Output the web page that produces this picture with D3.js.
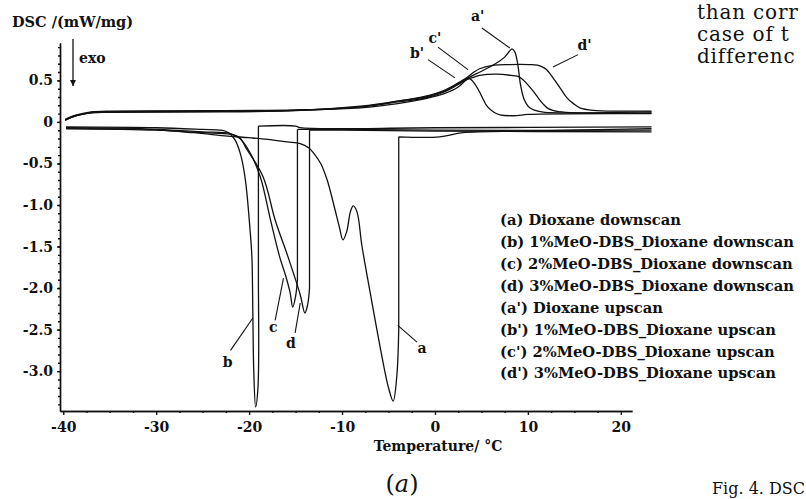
<!DOCTYPE html>
<html>
<head>
<meta charset="utf-8">
<title>DSC</title>
<script src="https://d3js.org/d3.v7.min.js"></script>
<style>
    body { margin: 0; background: #fff; }
    svg { display: block; background: #ffffff; }
    .lbl { font-family: "DejaVu Serif", serif; font-weight: bold; font-size: 14px; fill: #111; }
    .page { font-family: "DejaVu Serif", serif; fill: #111; }
    .curve { fill: none; stroke: #111; stroke-width: 1.3; stroke-linejoin: round; }
    .axis path, .axis line { stroke: #111; stroke-width: 1.4; }
    .axis text { font-family: "DejaVu Serif", serif; font-weight: bold; font-size: 14px; fill: #111; }
</style>
</head>
<body>
<div id="chart"></div>
<script>
// ticks
var xTicks = [-40, -30, -20, -10, 0, 10, 20]
var xTickLabels = ["-40", "-30", "-20", "-10", "0", "10", "20"]
var yTicks = [0.5, 0, -0.5, -1.0, -1.5, -2.0, -2.5, -3.0]
var yTickLabels = ["0.5", "0", "-0.5", "-1.0", "-1.5", "-2.0", "-2.5", "-3.0"]

// downscans (cooling), [temperature, DSC]
var downA = [[-39.7,-0.07],[-35,-0.075],[-31.7,-0.08],[-26,-0.13],[-22.3,-0.17],[-20,-0.19],[-18,-0.21],[-15.9,-0.24],
    [-14.5,-0.26],[-13.6,-0.31],[-13.1,-0.37],[-12.3,-0.5],[-11.6,-0.70],[-10.75,-1.06],[-10.3,-1.26],[-9.9,-1.42],
    [-9.5,-1.32],[-9.1,-1.08],[-8.8,-1.01],[-8.4,-1.08],[-7.85,-1.5],[-6.9,-2.1],[-5.9,-2.71],[-5.0,-3.2],[-4.5,-3.36],
    [-4.1,-3.05],[-3.9,-2.5],[-3.9,-0.18],[0.5,-0.18],[3,-0.13],[10,-0.11],[23.3,-0.08]]
var downB = [[-39.7,-0.06],[-30,-0.07],[-25,-0.09],[-23,-0.1],[-22.2,-0.13],[-21.5,-0.22],[-20.9,-0.4],[-20.4,-0.70],
    [-19.9,-1.3],[-19.7,-1.63],[-19.6,-2.3],[-19.5,-3.0],[-19.3,-3.43],[-19.05,-3.2],[-19.0,-2.0],[-19.0,-0.05],
    [-15,-0.05],[-14.5,-0.07],[0,-0.07],[23.3,-0.06]]
var downC = [[-39.7,-0.08],[-30,-0.09],[-25,-0.12],[-22,-0.14],[-21,-0.2],[-20,-0.35],[-18.8,-0.66],[-17.7,-1.18],
    [-16.7,-1.63],[-16.1,-1.84],[-15.6,-2.05],[-15.3,-2.23],[-15.0,-2.1],[-14.8,-1.9],[-14.8,-0.09],[-10,-0.09],
    [0,-0.1],[23.3,-0.1]]
var downD = [[-39.7,-0.08],[-30,-0.1],[-25,-0.13],[-22,-0.15],[-21,-0.19],[-20.4,-0.3],[-18.5,-0.66],[-17.2,-1.18],
    [-15.8,-1.63],[-14.5,-2.08],[-14.0,-2.30],[-13.7,-2.2],[-13.5,-2.0],[-13.5,-0.1],[-10,-0.1],[0,-0.11],[23.3,-0.12]]

// upscans (heating)
var upA = [[-39.8,0.02],[-39,0.06],[-38,0.09],[-37,0.11],[-35,0.12],[-25,0.125],[-15,0.14],[-8,0.18],[-4,0.24],
    [-1,0.29],[1,0.36],[2.5,0.45],[3.4,0.52],[5,0.61],[6.5,0.70],[7.5,0.78],[8.3,0.88],[8.6,0.84],[8.9,0.70],
    [9.2,0.45],[9.6,0.27],[10.2,0.17],[11.5,0.12],[15,0.11],[23.3,0.12]]
var upB = [[-39.8,0.03],[-39,0.07],[-38,0.1],[-37,0.12],[-35,0.13],[-25,0.135],[-15,0.145],[-8,0.17],[-4,0.22],
    [-1,0.28],[1,0.34],[2.5,0.42],[3.3,0.50],[3.7,0.52],[4.2,0.47],[4.8,0.36],[5.2,0.27],[5.6,0.19],[6.3,0.12],
    [7.0,0.085],[8.8,0.075],[10,0.09],[23.3,0.1]]
var upC = [[-39.8,0.02],[-39,0.06],[-38,0.09],[-37,0.11],[-35,0.115],[-25,0.12],[-15,0.135],[-8,0.18],[-4,0.25],
    [-1,0.3],[1,0.37],[2.5,0.46],[3.4,0.51],[4.2,0.54],[4.8,0.56],[6.6,0.575],[8.2,0.56],[9.1,0.54],[9.8,0.47],
    [10.5,0.38],[11.1,0.29],[11.6,0.22],[12.2,0.16],[13.3,0.125],[23.3,0.11]]
var upD = [[-39.8,0.02],[-39,0.06],[-38,0.095],[-37,0.115],[-35,0.125],[-25,0.13],[-15,0.14],[-8,0.19],[-4,0.25],
    [-1,0.31],[1,0.38],[2.5,0.47],[3.4,0.53],[4.2,0.6],[4.8,0.64],[6.2,0.68],[8,0.69],[10.2,0.69],[11.0,0.685],
    [11.6,0.66],[12.0,0.63],[12.7,0.53],[13.4,0.42],[14.2,0.29],[14.9,0.22],[15.6,0.17],[17.0,0.14],[20,0.13],[23.3,0.13]]

var curves = [downA, downB, downC, downD, upA, upB, upC, upD]

// curve tags: [text, textT, textV, fromT, fromV, toT, toV]
var curveTags = [
    ["a", -1.4, -2.72, -1.94, -2.65, -4.0, -2.45],
    ["b", -22.3, -2.89, -22.0, -2.75, -19.6, -2.36],
    ["c", -17.4, -2.47, -17.2, -2.39, -16.3, -1.88],
    ["d", -15.5, -2.66, -15.05, -2.54, -14.5, -2.18],
    ["a'", 4.6, 1.27, 5.05, 1.13, 8.06, 0.89],
    ["c'", 0.0, 1.01, 0.32, 0.90, 3.55, 0.63],
    ["b'", -1.94, 0.83, -0.75, 0.75, 2.15, 0.53],
    ["d'", 16.1, 0.93, 15.4, 0.81, 12.7, 0.66]
]

var legendLabels = [
    "(a) Dioxane downscan",
    "(b) 1%MeO-DBS_Dioxane downscan",
    "(c) 2%MeO-DBS_Dioxane downscan",
    "(d) 3%MeO-DBS_Dioxane downscan",
    "(a') Dioxane upscan",
    "(b') 1%MeO-DBS_Dioxane upscan",
    "(c') 2%MeO-DBS_Dioxane upscan",
    "(d') 3%MeO-DBS_Dioxane upscan"
]

var pageLines = ["than corr", "case of t", "differenc"]

var width = 806, height = 499

var svg = d3.select("#chart").append("svg")
    .attr("width", width)
    .attr("height", height)

var x = d3.scaleLinear().domain([-40.35, 21.2]).range([60, 632])
var y = d3.scaleLinear().domain([0.95, -3.48]).range([43, 411])

var line = d3.line()
    .x(d => x(d[0]))
    .y(d => y(d[1]))
    .curve(d3.curveCatmullRom.alpha(0.5))

// smooth runs, but keep the vertical jumps straight
function curvePath(pts) {
    var runs = [], cur = [pts[0]]
    for (var i = 1; i < pts.length; i++) {
        if (pts[i][0] === pts[i - 1][0]) {
            if (cur.length > 1) runs.push(cur)
            runs.push([pts[i - 1], pts[i]])
            cur = [pts[i]]
        } else {
            cur.push(pts[i])
        }
    }
    if (cur.length > 1) runs.push(cur)
    return runs.map(r => line(r)).join("")
}

svg.selectAll(".curve")
    .data(curves)
    .enter().append("path")
    .attr("class", "curve")
    .attr("d", curvePath)

// axes
var xMinor = d3.range(-40, 21, 2.5).filter(t => xTicks.indexOf(t) < 0)
var yMinor = d3.range(-3.4, 0.95, 0.1).map(v => Math.round(v * 10) / 10)

svg.append("g").attr("class", "axis")
    .attr("transform", "translate(0," + y.range()[1] + ")")
    .call(d3.axisBottom(x).tickValues(xMinor).tickSize(2).tickSizeOuter(0).tickFormat(""))
svg.append("g").attr("class", "axis")
    .attr("transform", "translate(0," + y.range()[1] + ")")
    .call(d3.axisBottom(x).tickValues(xTicks).tickSize(4).tickPadding(7).tickSizeOuter(0)
        .tickFormat((d, i) => xTickLabels[i]))

svg.append("g").attr("class", "axis")
    .attr("transform", "translate(" + x.range()[0] + ",0)")
    .call(d3.axisLeft(y).tickValues(yMinor).tickSize(2).tickSizeOuter(0).tickFormat(""))
svg.append("g").attr("class", "axis")
    .attr("transform", "translate(" + x.range()[0] + ",0)")
    .call(d3.axisLeft(y).tickValues(yTicks).tickSize(3).tickPadding(4).tickSizeOuter(0)
        .tickFormat((d, i) => yTickLabels[i]))

// axis titles
svg.append("text").attr("class", "lbl")
    .attr("x", 12).attr("y", 27)
    .style("font-size", "14.5px")
    .text("DSC /(mW/mg)")

svg.append("text").attr("class", "lbl")
    .attr("x", 438).attr("y", 451)
    .attr("text-anchor", "middle")
    .text("Temperature/ \u00b0C")

// exo arrow
svg.append("defs").append("marker")
    .attr("id", "arr")
    .attr("viewBox", "0 0 10 10")
    .attr("refX", 10).attr("refY", 5)
    .attr("markerWidth", 6).attr("markerHeight", 6)
    .attr("markerUnits", "userSpaceOnUse")
    .attr("orient", "auto")
    .append("path").attr("d", "M0,0L10,5L0,10z").attr("fill", "#111")
svg.append("line")
    .attr("x1", 73).attr("x2", 73).attr("y1", 39).attr("y2", 86)
    .attr("stroke", "#111").attr("stroke-width", 1.3)
    .attr("marker-end", "url(#arr)")
svg.append("text").attr("class", "lbl")
    .attr("x", 79).attr("y", 63)
    .text("exo")

// curve tags
var tags = svg.selectAll(".tag")
    .data(curveTags)
    .enter().append("g").attr("class", "tag")
tags.append("line")
    .attr("x1", d => x(d[3])).attr("y1", d => y(d[4]))
    .attr("x2", d => x(d[5])).attr("y2", d => y(d[6]))
    .attr("stroke", "#111").attr("stroke-width", 1.1)
tags.append("text").attr("class", "lbl")
    .attr("x", d => x(d[1])).attr("y", d => y(d[2]))
    .attr("dy", "0.35em")
    .attr("text-anchor", "middle")
    .text(d => d[0])

// legend
svg.append("g")
    .attr("transform", "translate(500,220)")
    .selectAll("text")
    .data(legendLabels)
    .enter().append("text").attr("class", "lbl")
    .style("font-size", "14.7px")
    .attr("y", (d, i) => i * 21.9)
    .attr("dy", "0.35em")
    .text(d => d)

// caption
var cap = svg.append("text").attr("class", "page")
    .attr("x", 402).attr("y", 492)
    .attr("text-anchor", "middle")
    .style("font-size", "24px")
cap.append("tspan").text("(")
cap.append("tspan").style("font-style", "italic").text("a")
cap.append("tspan").text(")")

// surrounding page text
svg.selectAll(".pline")
    .data(pageLines)
    .enter().append("text").attr("class", "page pline")
    .attr("x", 697).attr("y", (d, i) => 19 + i * 22)
    .style("font-size", "20px")
    .style("letter-spacing", "0.8px")
    .text(d => d)

svg.append("text").attr("class", "page")
    .attr("x", 712).attr("y", 494)
    .style("font-size", "16px")
    .text("Fig. 4. DSC")
</script>
</body>
</html>
